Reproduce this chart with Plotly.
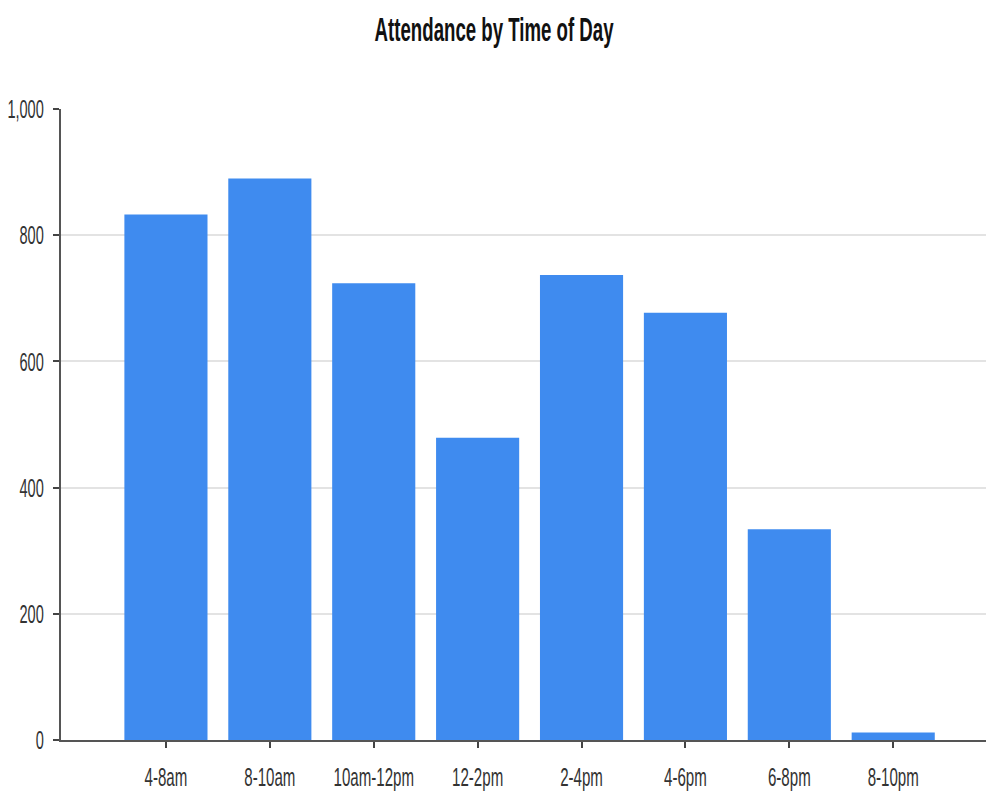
import plotly.graph_objects as go

categories = ["4-8am", "8-10am", "10am-12pm", "12-2pm", "2-4pm", "4-6pm", "6-8pm", "8-10pm"]
attendance = [833, 890, 724, 479, 737, 677, 334, 12]
y_ticks = [0, 200, 400, 600, 800, 1000]
y_tick_labels = ["0", "200", "400", "600", "800", "1,000"]

font_family = "Liberation Sans, Arial, sans-serif"

fig = go.Figure(
    go.Bar(
        x=list(range(len(categories))),
        y=attendance,
        marker=dict(color="#3f8bef", line=dict(width=0)),
        width=0.8,
    )
)

fig.update_layout(
    width=986,
    height=790,
    margin=dict(l=53, r=0, t=101, b=58),
    paper_bgcolor="white",
    plot_bgcolor="white",
    showlegend=False,
    title=dict(
        text="<b>Attendance by Time of Day</b>",
        x=0.493,
        xanchor="center",
        y=0.973,
        yanchor="middle",
        font=dict(family=font_family, size=33, color="#111111"),
    ),
    font=dict(family=font_family, size=15, color="#444444"),
)

fig.update_xaxes(
    range=[-1.01, 7.97],
    tickmode="array",
    tickvals=list(range(len(categories))),
    ticktext=categories,
    tickangle=0,
    ticks="outside",
    ticklen=6,
    tickwidth=2,
    tickcolor="#444444",
    showline=True,
    linecolor="#555555",
    linewidth=2,
    showgrid=False,
    zeroline=False,
    automargin=False,
    ticklabelstandoff=7,
    tickfont=dict(family=font_family, size=26, color="#333333"),
)

fig.update_yaxes(
    range=[0, 1000],
    tickmode="array",
    tickvals=y_ticks,
    ticktext=y_tick_labels,
    ticks="outside",
    ticklen=6,
    tickwidth=2,
    tickcolor="#444444",
    showline=True,
    linecolor="#555555",
    linewidth=2,
    showgrid=True,
    gridcolor="#e3e3e3",
    gridwidth=2,
    zeroline=False,
    automargin=False,
    ticklabelstandoff=4,
    tickfont=dict(family=font_family, size=26, color="#333333"),
)

# Narrow the text horizontally to match the condensed lettering of the reference
post_js = """
var gd = document.getElementById('{plot_id}');
function squeeze(sel, sx) {
  gd.querySelectorAll(sel).forEach(function (t) {
    var x = parseFloat(t.getAttribute('x')) || 0;
    var y = parseFloat(t.getAttribute('y')) || 0;
    var base = t.getAttribute('data-base-transform');
    if (base === null) {
      base = t.getAttribute('transform') || '';
      t.setAttribute('data-base-transform', base);
    }
    t.setAttribute('transform', base + ' translate(' + x + ',' + y + ') scale(' + sx + ',1) translate(' + (-x) + ',' + (-y) + ')');
  });
}
function squeezeAll() {
  squeeze('g.xtick text', 0.58);
  squeeze('g.ytick text', 0.56);
  squeeze('text.gtitle', 0.565);
}
squeezeAll();
gd.on('plotly_afterplot', squeezeAll);
"""

fig.write_html("out.html", post_script=post_js)
